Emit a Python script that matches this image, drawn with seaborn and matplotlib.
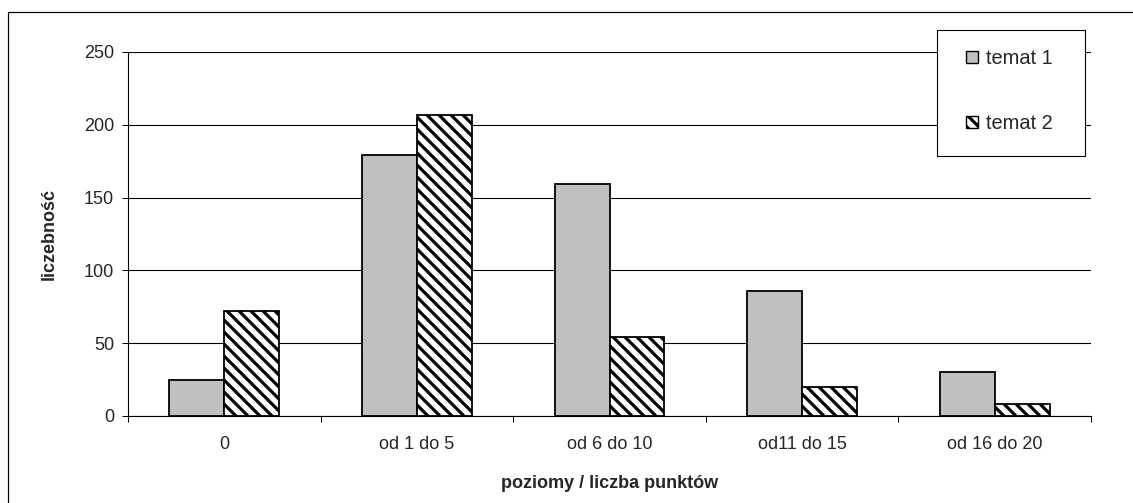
import pandas as pd
import seaborn as sns
import matplotlib.pyplot as plt
import matplotlib.patches as mpatches
from matplotlib.ticker import FixedLocator

# data
categories = ["0", "od 1 do 5", "od 6 do 10", "od11 do 15", "od 16 do 20"]
temat1 = [25, 179, 159, 86, 30]
temat2 = [72, 207, 54, 20, 8]
series = ["temat 1", "temat 2"]

df = pd.DataFrame({
    "kategoria": categories * 2,
    "seria": [series[0]] * len(categories) + [series[1]] * len(categories),
    "liczebnosc": temat1 + temat2,
})

sns.set_style("white")
plt.rcParams["font.family"] = ["Liberation Sans", "DejaVu Sans"]
plt.rcParams["hatch.linewidth"] = 3.2
plt.rcParams["hatch.color"] = "black"

DPI = 72
W, H = 1133, 503
fig = plt.figure(figsize=(W / DPI, H / DPI), dpi=DPI)
ax = fig.add_axes([128 / W, 1 - 416 / H, (1091 - 128) / W, (416 - 52) / H])

sns.barplot(
    data=df, x="kategoria", y="liczebnosc", hue="seria",
    palette={"temat 1": "#c0c0c0", "temat 2": "white"},
    width=0.57, gap=0, edgecolor="black", linewidth=1.8,
    saturation=1, ax=ax, legend=False,
)
for bar in ax.containers[1]:
    bar.set_hatch("\\\\")

ax.set_ylim(0, 250)
ax.set_xlim(-0.5, len(categories) - 0.5)
ax.set_yticks([0, 50, 100, 150, 200, 250])
ax.yaxis.grid(True, color="black", linewidth=1.1)
ax.set_axisbelow(True)

for side in ["top", "right"]:
    ax.spines[side].set_visible(False)
for side in ["left", "bottom"]:
    ax.spines[side].set_color("black")
    ax.spines[side].set_linewidth(1.1)

ax.tick_params(axis="y", which="major", direction="out", length=6,
               width=1, color="black", labelsize=18, pad=8, left=True)
ax.tick_params(axis="x", which="major", length=0, labelsize=18, pad=20)
ax.xaxis.set_minor_locator(FixedLocator([i - 0.5 for i in range(len(categories) + 1)]))
ax.tick_params(axis="x", which="minor", direction="out", length=6,
               width=1, color="black", bottom=True)

ax.set_ylabel("liczebność", fontsize=18, fontweight="bold", labelpad=26)
ax.set_xlabel("poziomy / liczba punktów", fontsize=18, fontweight="bold", labelpad=22)

# legend box drawn separately so its size matches the original
fig.patches.append(mpatches.Rectangle(
    (937 / W, 1 - 156 / H), 148 / W, 126 / H, transform=fig.transFigure,
    facecolor="white", edgecolor="black", linewidth=1.1, figure=fig, zorder=5,
))
handles = [
    mpatches.Patch(facecolor="#c0c0c0", edgecolor="black", linewidth=1.4, label=series[0]),
    mpatches.Patch(facecolor="white", edgecolor="black", linewidth=1.4, hatch="\\\\", label=series[1]),
]
leg = fig.legend(
    handles=handles, loc="upper left",
    bbox_to_anchor=(966 / W, 1 - 49 / H), bbox_transform=fig.transFigure,
    fontsize=20, frameon=False, handlelength=0.6, handleheight=0.6,
    handletextpad=0.4, labelspacing=2.3, borderpad=0, borderaxespad=0,
)
leg.set_zorder(6)

# outer frame of the chart area
fig.patches.append(mpatches.Rectangle(
    (8 / W, -0.1), 1.2, 1 - 12 / H + 0.1, transform=fig.transFigure,
    fill=False, edgecolor="black", linewidth=1.2, figure=fig,
))

fig.savefig("out.png", dpi=DPI)
